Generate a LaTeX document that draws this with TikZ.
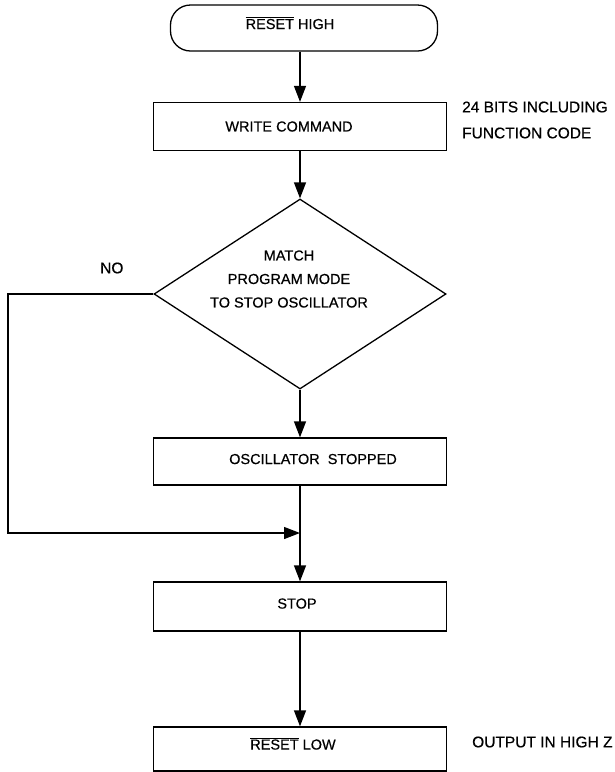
\documentclass[tikz,border=0pt]{standalone}
\usepackage{fontspec}
\setmainfont{Liberation Sans}[FakeBold=0.5]
\usetikzlibrary{shapes.geometric,arrows.meta}
\begin{document}
\begin{tikzpicture}[x=1pt,y=-1pt,
  txt/.style={font=\fontsize{14.5}{23.5}\selectfont},
  box/.style={draw,line width=1.3pt,minimum width=293pt,inner sep=0pt,txt},
  arr/.style={line width=1.3pt,-{Triangle[length=16pt,width=12pt]}},
  ln/.style={line width=1.3pt},
  note/.style={font=\fontsize{15.5}{26}\selectfont,align=left,anchor=west,inner sep=0pt}]
\useasboundingbox (0,0) rectangle (614,772);
\node[box,rounded corners=20pt,minimum width=267pt,minimum height=46pt] (start) at (304,28) {\raisebox{10pt}{\hspace*{-28pt}$\overline{\hbox{RESET}}$ HIGH}};
\node[box,minimum height=48pt] (write) at (300,126.5) {\hspace*{-22pt}WRITE COMMAND};
\node[draw,diamond,line width=1.3pt,minimum width=292pt,minimum height=190pt,inner sep=0pt,aspect=1.54,
  label={[txt,align=center,yshift=15pt,xshift=-11pt]center:MATCH\\PROGRAM MODE\\TO STOP OSCILLATOR}] (match) at (300,294) {};
\node[box,minimum height=47pt] (osc) at (300,461.5) {\raisebox{5pt}{\hspace*{26pt}OSCILLATOR\ \ STOPPED}};
\node[box,minimum height=49pt] (stop) at (300,606.5) {\raisebox{6pt}{\hspace*{-6pt}STOP}};
\node[box,minimum height=44pt] (low) at (300,749) {\raisebox{11pt}{\hspace*{-14pt}$\overline{\hbox{RESET}}$ LOW}};
\coordinate (lft) at (8,533);
\coordinate (j) at (300,533);
\draw[arr] (write.north |- start.south) -- (write.north);
\draw[arr] (write.south) -- (match.north);
\draw[arr] (match.south) -- (osc.north);
\draw[ln] (osc.south) -- (j);
\draw[arr] (match.west) -| (lft) -- (j);
\draw[arr] (j) -- (stop.north);
\draw[arr] (stop.south) -- (low.north);
\node[note] (no) at (100,268) {NO};
\node[note] (bits) at (462,120) {24 BITS INCLUDING\\FUNCTION CODE};
\node[note] (hz) at (472,742) {OUTPUT IN HIGH Z};
\end{tikzpicture}
\end{document}
